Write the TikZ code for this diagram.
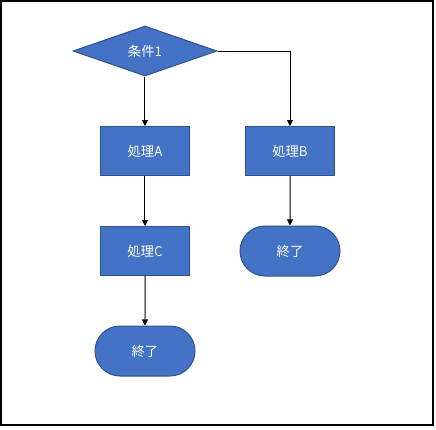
\documentclass[tikz,border=0pt]{standalone}
\usepackage{fontspec}
\setmainfont{Noto Sans CJK JP}
\usetikzlibrary{positioning,shapes.geometric,shapes.misc,arrows.meta}

\definecolor{boxblue}{HTML}{4472C4}
\definecolor{boxline}{HTML}{2F528F}

\tikzset{
    flow/.style={draw=boxline, line width=0.75pt, fill=boxblue, text=white,
        font=\fontsize{10pt}{12pt}\selectfont, inner sep=0pt},
    decision/.style={flow, diamond, shape aspect=2.88, minimum width=108pt, minimum height=37.5pt},
    process/.style={flow, rectangle, minimum width=66.75pt, minimum height=36.75pt},
    terminal/.style={flow, rounded rectangle, minimum width=75pt, minimum height=37.5pt}
}

\begin{document}
\begin{tikzpicture}[line width=0.75pt, >={Triangle[length=4.5pt,width=4.5pt]}, node distance=75pt, on grid]
    \useasboundingbox (-108.75pt,38.25pt) rectangle (218.25pt,-283.5pt);
    \draw[line width=1pt] (-108pt,37.5pt) rectangle (216pt,-280.5pt);

    \node[decision] (cond) {条件1};
    \node[process] [below=of cond] (proc_a) {処理A};
    \node[process] [right=108.75pt of proc_a] (proc_b) {処理B};
    \node[process] [below=of proc_a] (proc_c) {処理C};
    \node[terminal] [below=of proc_b] (end_b) {終了};
    \node[terminal] [below=of proc_c] (end_a) {終了};

    \path[->]
    (cond) edge (proc_a)
    (proc_a) edge (proc_c)
    (proc_c) edge (end_a)
    (proc_b) edge (end_b)
    ;
    \draw[->] (cond.east) -| (proc_b);
\end{tikzpicture}
\end{document}
